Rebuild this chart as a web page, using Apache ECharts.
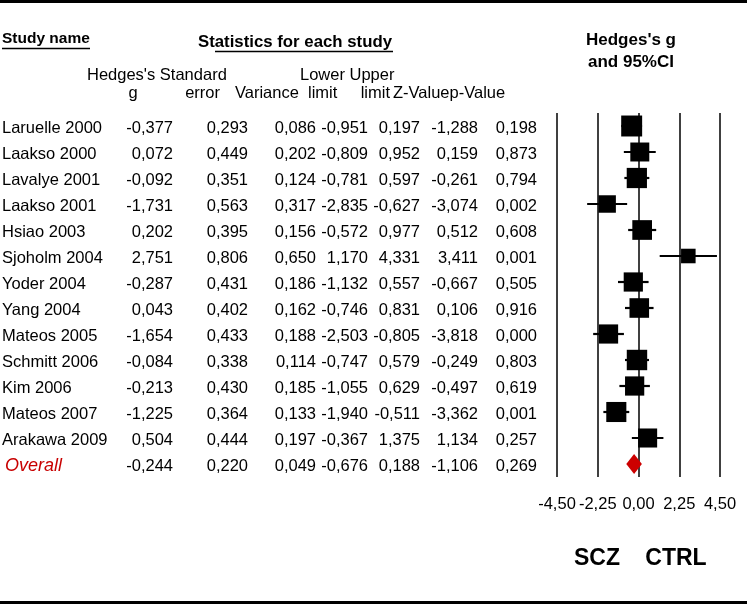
<!DOCTYPE html>
<html><head><meta charset="utf-8">
<script src="https://cdn.jsdelivr.net/npm/echarts@6/dist/echarts.min.js"></script>
<style>html,body{margin:0;padding:0;background:#fff}#c{width:747px;height:604px}</style>
</head><body><div id="c"></div>
<script>
const studies = ['Laruelle 2000','Laakso 2000','Lavalye 2001','Laakso 2001','Hsiao 2003','Sjoholm 2004','Yoder 2004','Yang 2004','Mateos 2005','Schmitt 2006','Kim 2006','Mateos 2007','Arakawa 2009','Overall'];
const hedgesG   = [-0.377, 0.072, -0.092, -1.731, 0.202, 2.751, -0.287, 0.043, -1.654, -0.084, -0.213, -1.225, 0.504, -0.244];
const stdErr    = [0.293, 0.449, 0.351, 0.563, 0.395, 0.806, 0.431, 0.402, 0.433, 0.338, 0.430, 0.364, 0.444, 0.220];
const variance  = [0.086, 0.202, 0.124, 0.317, 0.156, 0.650, 0.186, 0.162, 0.188, 0.114, 0.185, 0.133, 0.197, 0.049];
const lowerLimit= [-0.951, -0.809, -0.781, -2.835, -0.572, 1.170, -1.132, -0.746, -2.503, -0.747, -1.055, -1.940, -0.367, -0.676];
const upperLimit= [0.197, 0.952, 0.597, -0.627, 0.977, 4.331, 0.557, 0.831, -0.805, 0.579, 0.629, -0.511, 1.375, 0.188];
const zValue    = [-1.288, 0.159, -0.261, -3.074, 0.512, 3.411, -0.667, 0.106, -3.818, -0.249, -0.497, -3.362, 1.134, -1.106];
const pValue    = [0.198, 0.873, 0.794, 0.002, 0.608, 0.001, 0.505, 0.916, 0.000, 0.803, 0.619, 0.001, 0.257, 0.269];
const xTicks    = [-4.5, -2.25, 0, 2.25, 4.5];
const xTickLabels = ['-4,50', '-2,25', '0,00', '2,25', '4,50'];

const FONT = '"Liberation Sans", Arial, sans-serif';
const fmt = v => v.toFixed(3).replace('.', ',');
const lastIdx = studies.length - 1;
const TAU2 = 0.44, K = 15.2;

const chart = echarts.init(document.getElementById('c'), null, {renderer: 'canvas'});

const forestData = studies.map((s, i) => [hedgesG[i], i, lowerLimit[i], upperLimit[i], variance[i]]);
const tableData = studies.map((s, i) => [0, i]);

const colRight = [173, 248, 316, 368, 420, 478, 537];
const colArrays = [hedgesG, stdErr, variance, lowerLimit, upperLimit, zValue, pValue];

function txt(x, y, text, opts) {
  opts = opts || {};
  return {
    type: 'text', x: x, y: y, silent: true,
    style: {
      text: text, fill: opts.fill || '#000',
      font: opts.font || ('16.5px ' + FONT),
      textAlign: opts.align || 'left', align: opts.align || 'left',
      textVerticalAlign: 'middle', verticalAlign: 'middle'
    }
  };
}

const option = {
  animation: false,
  backgroundColor: '#fff',
  grid: {left: 557, top: 113, width: 163, height: 364, containLabel: false},
  xAxis: {
    type: 'value', min: xTicks[0], max: xTicks[xTicks.length - 1], interval: xTicks[1] - xTicks[0],
    axisLine: {show: false}, axisTick: {show: false},
    splitLine: {show: true, lineStyle: {color: '#000', width: 1.5, type: 'solid'}},
    axisLabel: {
      margin: 19, color: '#000', fontSize: 16.5, fontFamily: FONT, hideOverlap: false,
      showMinLabel: true, showMaxLabel: true,
      formatter: v => { const k = xTicks.findIndex(t => Math.abs(t - v) < 1e-9); return k >= 0 ? xTickLabels[k] : ''; }
    }
  },
  yAxis: {
    type: 'category', data: studies, inverse: true, show: false,
    axisLine: {show: false}, splitLine: {show: false}
  },
  series: [
    {
      type: 'custom', clip: false, silent: true, z: 5,
      encode: {x: 0, y: 1},
      data: forestData,
      renderItem: function (params, api) {
        const g = api.value(0), row = api.value(1), lo = api.value(2), hi = api.value(3), v = api.value(4);
        const c = api.coord([g, row]), l = api.coord([lo, row]), h = api.coord([hi, row]);
        if (params.dataIndex === lastIdx) {
          return {type: 'polygon', shape: {points: [[l[0], c[1]], [c[0], c[1] - 10], [h[0], c[1]], [c[0], c[1] + 10]]},
            style: {fill: '#cc0000'}};
        }
        const s = K / Math.sqrt(v + TAU2);
        return {type: 'group', children: [
          {type: 'line', shape: {x1: l[0], y1: c[1], x2: h[0], y2: c[1]}, style: {stroke: '#000', lineWidth: 2.2}},
          {type: 'rect', shape: {x: c[0] - s / 2, y: c[1] - s / 2, width: s, height: s}, style: {fill: '#000'}}
        ]};
      }
    },
    {
      type: 'custom', clip: false, silent: true, z: 6,
      encode: {x: 0, y: 1},
      data: tableData,
      renderItem: function (params, api) {
        const i = params.dataIndex;
        const y = api.coord([0, api.value(1)])[1] + 2;
        const children = [];
        if (i === lastIdx) {
          children.push(txt(5, y, studies[i], {fill: '#c80000', font: 'italic 18px ' + FONT}));
        } else {
          children.push(txt(2, y, studies[i]));
        }
        colArrays.forEach((arr, k) => children.push(txt(colRight[k], y, fmt(arr[i]), {align: 'right'})));
        return {type: 'group', children: children};
      }
    }
  ],
  graphic: [
    {type: 'rect', shape: {x: 0, y: 0, width: 747, height: 3}, style: {fill: '#000'}},
    {type: 'rect', shape: {x: 0, y: 601, width: 747, height: 3}, style: {fill: '#000'}},
    txt(2, 39, 'Study name', {font: 'bold 15.5px ' + FONT}),
    {type: 'line', shape: {x1: 2, y1: 48.5, x2: 90, y2: 48.5}, style: {stroke: '#000', lineWidth: 1.5}},
    txt(198, 42, 'Statistics for each study', {font: 'bold 16.8px ' + FONT}),
    {type: 'line', shape: {x1: 215, y1: 51.5, x2: 393, y2: 51.5}, style: {stroke: '#000', lineWidth: 1.5}},
    txt(631, 40, "Hedges's g", {font: 'bold 17px ' + FONT, align: 'center'}),
    txt(631, 62, 'and 95%CI', {font: 'bold 17px ' + FONT, align: 'center'}),
    txt(87, 75, "Hedges's Standard"),
    txt(300, 75, 'Lower Upper'),
    txt(133, 93, 'g', {align: 'center'}),
    txt(220, 93, 'error', {align: 'right'}),
    txt(235, 93, 'Variance'),
    txt(308, 93, 'limit'),
    txt(390, 93, 'limit', {align: 'right'}),
    txt(393, 93, 'Z-Valuep-Value'),
    txt(597, 559, 'SCZ', {font: 'bold 23px ' + FONT, align: 'center'}),
    txt(676, 559, 'CTRL', {font: 'bold 23px ' + FONT, align: 'center'})
  ]
};
chart.setOption(option);
</script>
</body></html>
